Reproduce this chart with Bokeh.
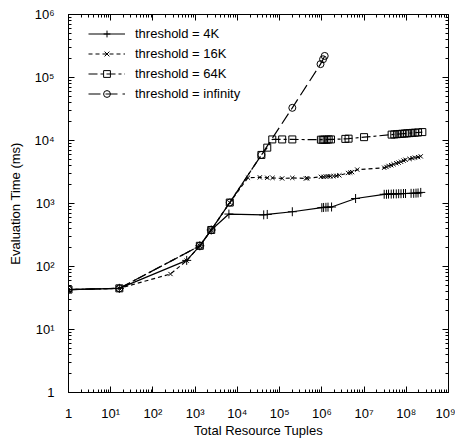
from bokeh.plotting import figure
from bokeh.models import LogAxis, FixedTicker, Legend, LegendItem
from bokeh.embed import file_html
from bokeh.resources import INLINE

# ---- data ----
x_4k = [1, 16, 630, 1290, 2400, 6300, 42000, 51000, 200000, 1.0e6, 1.1e6, 1.25e6, 1.4e6, 1.7e6,
        6.3e6, 3.0e7, 3.4e7, 3.8e7, 4.4e7, 5.0e7, 5.8e7, 6.6e7, 7.5e7, 8.6e7, 9.6e7,
        1.3e8, 1.5e8, 1.7e8, 1.9e8, 2.2e8]
y_4k = [43, 45, 125, 213, 380, 680, 660, 670, 740, 860, 865, 870, 875, 880,
        1200, 1400, 1400, 1410, 1410, 1420, 1420, 1430, 1430, 1440, 1440,
        1450, 1450, 1460, 1470, 1500]

x_16k = [1, 16, 260, 630, 1290, 2400, 6600, 17800, 34000, 51000, 68000, 115000, 200000,
         420000, 450000, 0.95e6, 1.1e6, 1.25e6, 1.4e6, 1.6e6, 1.9e6, 2.2e6, 2.6e6,
         4.2e6, 4.7e6, 5.2e6, 6.9e6, 3.0e7, 3.4e7, 3.8e7, 4.4e7, 5.0e7, 5.8e7, 6.6e7,
         7.5e7, 8.6e7, 9.6e7, 1.2e8, 1.4e8, 1.6e8, 1.9e8, 2.2e8]
y_16k = [43, 45, 76, 124, 213, 380, 1035, 2570, 2600, 2560, 2550, 2500, 2550,
         2500, 2520, 2650, 2650, 2680, 2700, 2700, 2720, 2750, 2800,
         3050, 3100, 3150, 3450, 3700, 3800, 3950, 4050, 4200, 4350, 4450,
         4600, 4800, 4950, 5100, 5250, 5350, 5450, 5600]

x_64k = [1, 16, 1290, 2400, 6600, 37000, 51000, 67000, 115000, 200000, 0.95e6, 1.05e6,
         1.15e6, 1.3e6, 1.45e6, 1.65e6, 3.6e6, 4.3e6, 1.0e7, 4.5e7, 5.2e7, 6.0e7, 7.0e7,
         8.0e7, 9.2e7, 1.05e8, 1.2e8, 1.4e8, 1.6e8, 1.9e8, 2.4e8]
y_64k = [43, 45, 213, 380, 1035, 5900, 7700, 10400, 10400, 10400, 10300, 10300,
         10300, 10300, 10400, 10400, 10600, 10700, 11300, 12400, 12500, 12600, 12700,
         12800, 12900, 13000, 13100, 13200, 13300, 13400, 13600]

x_inf = [1, 16, 1290, 2400, 6600, 37000, 200000, 930000, 1.07e6, 1.17e6]
y_inf = [43, 45, 213, 380, 1035, 5900, 33000, 163000, 195000, 220000]

series_labels = ["threshold = 4K", "threshold = 16K", "threshold = 64K", "threshold = infinity"]

x_major = [1, 10, 100, 1000, 10**4, 10**5, 10**6, 10**7, 10**8, 10**9]
x_tick_labels = ["1", "10¹", "10²", "10³", "10⁴", "10⁵", "10⁶", "10⁷", "10⁸", "10⁹"]
y_major = [1, 10, 100, 1000, 10**4, 10**5, 10**6]
y_tick_labels = ["1", "10¹", "10²", "10³", "10⁴", "10⁵", "10⁶"]

x_minor = [k * 10**i for i in range(9) for k in range(2, 10)]
y_minor = [k * 10**i for i in range(6) for k in range(2, 10)]

x_title = "Total Resource Tuples"
y_title = "Evaluation Time (ms)"

FONT = "Liberation Sans"

p = figure(width=455, height=440, x_axis_type="log", y_axis_type="log",
           x_range=(1, 1e9), y_range=(1, 1e6),
           output_backend="svg", toolbar_location=None,
           min_border_left=68, min_border_right=7, min_border_top=14, min_border_bottom=46)

p.xgrid.visible = False
p.ygrid.visible = False
p.outline_line_color = "black"
p.background_fill_color = "white"
p.border_fill_color = "white"


def style_axis(ax, ticks, minor, labels, show):
    ax.ticker = FixedTicker(ticks=ticks, minor_ticks=minor)
    ax.major_tick_in = 6
    ax.major_tick_out = 0
    ax.minor_tick_in = 3
    ax.minor_tick_out = 0
    ax.axis_line_color = "black"
    ax.major_tick_line_color = "black"
    ax.minor_tick_line_color = "black"
    if show:
        ax.major_label_overrides = {t: l for t, l in zip(ticks, labels)}
        ax.major_label_text_font = FONT
        ax.major_label_text_font_size = "13px"
        ax.major_label_text_color = "black"
    else:
        ax.major_label_overrides = {t: "" for t in ticks}
        ax.major_label_text_font_size = "0px"
        ax.major_label_standoff = 0


style_axis(p.xaxis[0], x_major, x_minor, x_tick_labels, True)
style_axis(p.yaxis[0], y_major, y_minor, y_tick_labels, True)
p.xaxis[0].major_label_standoff = 13
p.yaxis[0].major_label_standoff = 14
p.xaxis[0].axis_label = x_title
p.yaxis[0].axis_label = y_title
for ax in (p.xaxis[0], p.yaxis[0]):
    ax.axis_label_text_font = FONT
    ax.axis_label_text_font_size = "13px"
    ax.axis_label_text_font_style = "normal"
    ax.axis_label_text_color = "black"
p.xaxis[0].axis_label_standoff = -1
p.yaxis[0].axis_label_standoff = 8

top = LogAxis()
style_axis(top, x_major, x_minor, None, False)
p.add_layout(top, "above")
right = LogAxis()
style_axis(right, y_major, y_minor, None, False)
p.add_layout(right, "right")

LW = 1.2
items = []

r1 = p.line(x_4k, y_4k, line_color="black", line_width=LW)
m1 = p.scatter(x_4k, y_4k, marker="cross", size=9, line_color="black", fill_color=None, line_width=1)
items.append(LegendItem(label=series_labels[0], renderers=[r1, m1]))

r2 = p.line(x_16k, y_16k, line_color="black", line_width=LW, line_dash="4 3")
m2 = p.scatter(x_16k, y_16k, marker="x", size=6, line_color="black", fill_color=None, line_width=1)
items.append(LegendItem(label=series_labels[1], renderers=[r2, m2]))

r3 = p.line(x_64k, y_64k, line_color="black", line_width=LW, line_dash="9 3 3 3")
m3 = p.scatter(x_64k, y_64k, marker="square", size=7, line_color="black", fill_color=None, line_width=1)
items.append(LegendItem(label=series_labels[2], renderers=[r3, m3]))

r4 = p.line(x_inf, y_inf, line_color="black", line_width=LW, line_dash="12 5")
m4 = p.scatter(x_inf, y_inf, marker="circle", size=7, line_color="black", fill_color=None, line_width=1)
items.append(LegendItem(label=series_labels[3], renderers=[r4, m4]))

legend = Legend(items=items, location=(20, 290), border_line_color=None,
                background_fill_alpha=0, padding=0, margin=0, spacing=3,
                glyph_width=37, glyph_height=17, label_height=17, label_standoff=10,
                label_text_font=FONT, label_text_font_size="13px", label_text_color="black")
p.add_layout(legend, "center")

open("out.html", "w").write(file_html(p, INLINE))
